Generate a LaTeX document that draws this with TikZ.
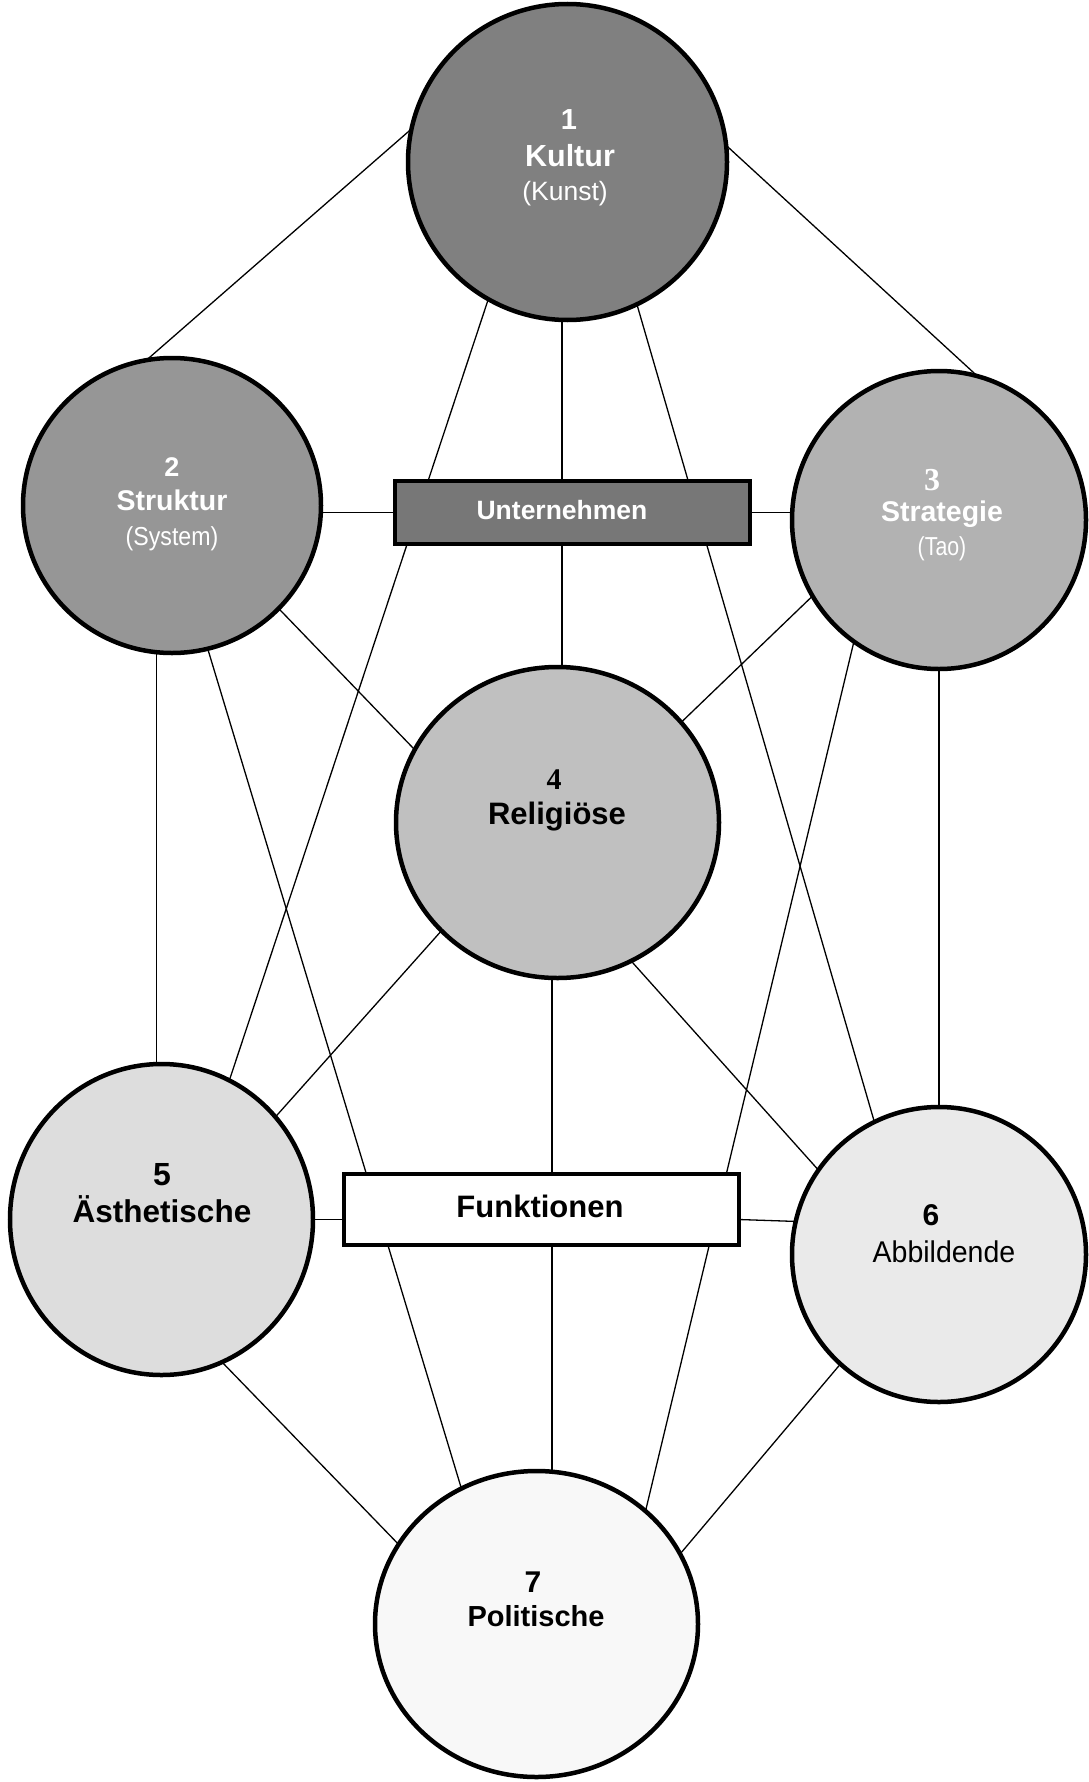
\documentclass[tikz,border=0pt]{standalone}
\usepackage{fontspec}
\setmainfont{Liberation Sans}
\newfontfamily\serifnum{Liberation Serif}
\newfontfamily\narrowA[FakeStretch=0.82]{Liberation Sans}
\newfontfamily\narrowB[FakeStretch=0.89]{Liberation Sans}
\newfontfamily\narrowC[FakeStretch=0.95]{Liberation Sans}
\usetikzlibrary{shapes.geometric,backgrounds}
\definecolor{gA}{HTML}{808080}
\definecolor{gB}{HTML}{969696}
\definecolor{gC}{HTML}{B2B2B2}
\definecolor{gD}{HTML}{C0C0C0}
\definecolor{gE}{HTML}{DDDDDD}
\definecolor{gF}{HTML}{EAEAEA}
\definecolor{gG}{HTML}{F8F8F8}
\definecolor{gU}{HTML}{777777}
\newcommand\myfs[1]{\fontsize{#1}{#1}\selectfont}
\begin{document}
\begin{tikzpicture}[x=1pt,y=-1pt,
  circ/.style={ellipse,draw=black,line width=4.5pt,inner sep=0pt,outer sep=0pt},
  box/.style={rectangle,draw=black,line width=4.5pt,inner sep=0pt,outer sep=0pt},
  link/.style={line width=1.3pt,draw=black},
  txt/.style={anchor=base,inner sep=0pt,outer sep=0pt}]
\useasboundingbox (0,0) rectangle (1088,1782);
% circles
\node[circ,fill=gA,minimum width=319pt,minimum height=316pt] (c1) at (567.5,162) {};
\node[circ,fill=gB,minimum width=298pt,minimum height=295pt] (c2) at (172,505.5) {};
\node[circ,fill=gC,minimum width=294pt,minimum height=298pt] (c3) at (939,520) {};
\node[circ,fill=gD,minimum width=323pt,minimum height=311pt] (c4) at (557.5,822.5) {};
\node[circ,fill=gE,minimum width=303pt,minimum height=311pt] (c5) at (161.5,1219.5) {};
\node[circ,fill=gF,minimum width=294pt,minimum height=295pt] (c6) at (939,1254.5) {};
\node[circ,fill=gG,minimum width=323pt,minimum height=306pt] (c7) at (536.5,1624) {};
% boxes
\node[box,fill=gU,minimum width=355pt,minimum height=63pt] (u) at (572.5,512.5) {};
\node[box,fill=white,minimum width=395pt,minimum height=71pt] (f) at (541.5,1209.5) {};
% connectors
\begin{pgfonlayer}{background}
\draw[link] (c1.168) -- (c2.100);
\draw[link] (c1.6) -- (c3.75);
\draw[link] (c1.240) -- (c5.64);
\draw[link] (c1.268) -- (c1.268 |- c4.north);
\draw[link] (c1.296) -- (c6.116);
\draw[link] (u.west -| c2.east) -- (u.west);
\draw[link] (u.east) -- (u.east -| c3.west);
\draw[link] (c2.316) -- (c4.153);
\draw[link] (c2.264) -- (c2.264 |- c5.north);
\draw[link] (c2.284) -- (c7.119);
\draw[link] (c3.211) -- (c4.39);
\draw[link] (c3.235) -- (c7.46);
\draw[link] (c3.south) -- (c6.north);
\draw[link] (c4.223) -- (c5.42);
\draw[link] (c4.268) -- (c4.268 |- c7.north);
\draw[link] (c4.298) -- (c6.145);
\draw[link] (c5.east) -- (c5.east -| f.west);
\draw[link] (c5.east -| f.east) -- (c6.167);
\draw[link] (c5.293) -- (c7.150);
\draw[link] (c6.228) -- (c7.26);
\end{pgfonlayer}
% texts
\node[txt,text=white] (n1) at (569,130) {\myfs{29}\bfseries 1};
\node[txt,text=white] (k1) at (570,166) {\myfs{30.5}\bfseries Kultur};
\node[txt,text=white] (s1) at (565,200) {\myfs{26.5}(Kunst)};
\node[txt,text=white] (n2) at (172,476) {\myfs{27}\bfseries 2};
\node[txt,text=white] (k2) at (172,510) {\myfs{28.5}\bfseries Struktur};
\node[txt,text=white] (s2) at (172,545) {\narrowB\myfs{26}(System)};
\node[txt,text=white] (n3) at (932,490) {\serifnum\myfs{32}\bfseries 3};
\node[txt,text=white] (k3) at (942,521) {\myfs{28.5}\bfseries Strategie};
\node[txt,text=white] (s3) at (942,555) {\narrowA\myfs{26}(Tao)};
\node[txt,text=white] (tu) at (562,519) {\myfs{26.5}\bfseries Unternehmen};
\node[txt] (n4) at (554,789) {\serifnum\myfs{30}\bfseries 4};
\node[txt] (k4) at (557,824) {\myfs{31}\bfseries Religiöse};
\node[txt] (n5) at (162,1185) {\myfs{32}\bfseries 5};
\node[txt] (k5) at (162,1222) {\myfs{31.5}\bfseries Ästhetische};
\node[txt] (n6) at (931,1225) {\myfs{30}\bfseries 6};
\node[txt] (k6) at (944,1262) {\narrowC\myfs{30}Abbildende};
\node[txt] (tf) at (540,1217) {\myfs{31}\bfseries Funktionen};
\node[txt] (n7) at (533,1592) {\myfs{30}\bfseries 7};
\node[txt] (k7) at (536,1626) {\myfs{29}\bfseries Politische};
\end{tikzpicture}
\end{document}
